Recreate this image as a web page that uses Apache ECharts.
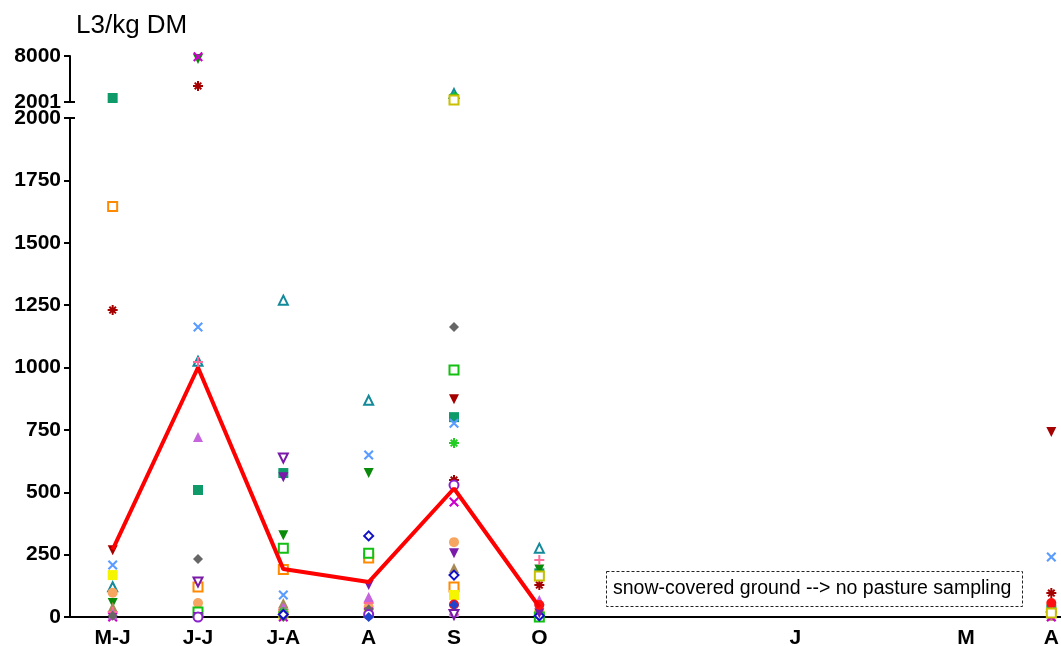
<!DOCTYPE html>
<html>
<head>
<meta charset="utf-8">
<script src="https://cdn.jsdelivr.net/npm/echarts@6/dist/echarts.min.js"></script>
<style>
  html, body { margin: 0; padding: 0; background: #fff; }
  #chart { width: 1061px; height: 646px; }
</style>
</head>
<body>
<div id="chart"></div>
<script>
// month labels on the x axis (blank = no sampling)
const tickLabels = ['M-J', 'J-J', 'J-A', 'A', 'S', 'O', '', '', 'J', '', 'M', 'A']
const lowerTicks = [0, 250, 500, 750, 1000, 1250, 1500, 1750, 2000]
const upperTicks = [2001, 8000]

// mean L3/kg DM per sampling period
const meanValues = [270, 1000, 192, 140, 515, 40]

// single pastures, values per period: [M-J, J-J, J-A, A, S, O, -, -, J, -, M, A]
const tealSquare = [2520, 509, 577, null, 801, 175, null, null, null, null, null, 30]
const orangeOpenSquare = [1645, 120, 190, 236, 120, null, null, null, null, null, null, null]
const darkRedAsterisk = [1230, 4100, 16, null, 549, 128, null, null, null, null, null, 96]
const darkRedDownTri = [268, null, 10, null, 873, 30, null, null, null, null, null, 741]
const blueCross = [208, 1162, 88, 649, 777, null, null, null, null, null, null, 240]
const yellowSquare = [168, 8, 10, 16, 88, 10, null, null, null, null, null, 16]
const tealOpenTri = [121, 1025, 1270, 869, 3100, 276, null, null, null, null, null, 40]
const sandCircle = [97, 56, 30, 40, 300, 20, null, null, null, null, null, null]
const greenDownTri = [56, 7600, 328, 577, 2400, 190, null, null, null, null, null, null]
const tanTri = [40, 10, 56, 30, 196, 10, null, null, null, null, null, 5]
const magentaCross = [0, 7900, 0, 20, 461, 0, null, null, null, null, null, 0]
const pinkPlus = [20, 1022, 30, 56, 10, 228, null, null, null, null, null, 20]
const orchidTri = [10, 721, 40, 80, 20, 68, null, null, null, null, null, null]
const greyDiamond = [5, 232, 0, 30, 1162, 0, null, null, null, null, null, null]
const purpleOpenDownTri = [null, 140, 637, null, 10, null, null, null, null, null, null, null]
const greenOpenSquare = [null, 20, 276, 256, 990, 0, null, null, null, null, null, null]
const greenAsterisk = [null, null, 20, null, 697, 10, null, null, null, null, null, null]
const limeAsterisk = [null, null, null, null, 2700, null, null, null, null, null, null, null]
const blueOpenDiamond = [null, null, 10, 325, 168, 5, null, null, null, null, null, null]
const purpleDownTri = [null, 0, 560, 128, 256, 15, null, null, null, null, null, null]
const purpleOpenCircle = [null, 0, null, 10, 529, null, null, null, null, null, null, null]
const redCircle = [null, null, null, null, 50, 48, null, null, null, null, null, 56]
const oliveOpenSquare = [null, null, null, null, 2250, 164, null, null, null, null, null, 16]
const blueDiamond = [null, null, null, 0, 48, null, null, null, null, null, null, null]

const asterisk = 'path://M4,0h2v10h-2z M0,4h10v2h-10z M1,2.4L2.4,1L9,7.6L7.6,9Z M7.6,1L9,2.4L2.4,9L1,7.6Z'
const cross = 'path://M0,1.5L1.5,0L10,8.5L8.5,10Z M8.5,0L10,1.5L1.5,10L0,8.5Z'
const plus = 'path://M4,0h2v10h-2z M0,4h10v2h-10z'

const pastures = [
  { data: tealSquare, symbol: 'rect', color: '#0f9a6a' },
  { data: orangeOpenSquare, symbol: 'emptyRect', color: '#ff8a00' },
  { data: darkRedAsterisk, symbol: asterisk, color: '#a50000' },
  { data: darkRedDownTri, symbol: 'triangle', rotate: 180, color: '#a50000' },
  { data: blueCross, symbol: cross, color: '#5a9cff' },
  { data: yellowSquare, symbol: 'rect', color: '#f5f500' },
  { data: tealOpenTri, symbol: 'emptyTriangle', color: '#128a9a' },
  { data: sandCircle, symbol: 'circle', color: '#f6a660' },
  { data: greenDownTri, symbol: 'triangle', rotate: 180, color: '#0a8a0a' },
  { data: tanTri, symbol: 'triangle', color: '#a88a55' },
  { data: magentaCross, symbol: cross, color: '#cc00cc' },
  { data: pinkPlus, symbol: plus, color: '#ff6c9c' },
  { data: orchidTri, symbol: 'triangle', color: '#c564dc' },
  { data: greyDiamond, symbol: 'diamond', color: '#666666' },
  { data: purpleOpenDownTri, symbol: 'emptyTriangle', rotate: 180, color: '#7a1aa8' },
  { data: greenOpenSquare, symbol: 'emptyRect', color: '#12c012' },
  { data: greenAsterisk, symbol: asterisk, color: '#22cc22' },
  { data: limeAsterisk, symbol: asterisk, color: '#11bb33' },
  { data: blueOpenDiamond, symbol: 'emptyDiamond', color: '#1010c8' },
  { data: purpleDownTri, symbol: 'triangle', rotate: 180, color: '#7a1aa8' },
  { data: purpleOpenCircle, symbol: 'emptyCircle', color: '#8a22cc' },
  { data: redCircle, symbol: 'circle', color: '#ff1010' },
  { data: oliveOpenSquare, symbol: 'emptyRect', color: '#c8c000' },
  { data: blueDiamond, symbol: 'diamond', color: '#2244cc' }
]

const font = "'Liberation Sans', Arial, sans-serif"
const chart = echarts.init(document.getElementById('chart'))

const xAxisBase = {
  type: 'category',
  data: tickLabels.map((_, i) => String(i)),
  boundaryGap: true
}

// split every pasture over the two y segments
const scatterSeries = []
pastures.forEach((p) => {
  const lower = []
  const upper = []
  p.data.forEach((v, i) => {
    if (v === null) return
    if (v > 2000) upper.push([i, v])
    else lower.push([i, v])
  })
  const isEmpty = p.symbol.indexOf('empty') === 0
  const base = {
    type: 'scatter',
    symbol: p.symbol,
    symbolRotate: p.rotate || 0,
    symbolSize: isEmpty ? 9 : 10,
    itemStyle: { color: p.color, borderColor: p.color, borderWidth: isEmpty ? 2.2 : 0, opacity: 1 },
    silent: true,
    z: 2
  }
  scatterSeries.push(Object.assign({}, base, { xAxisIndex: 0, yAxisIndex: 0, data: lower }))
  scatterSeries.push(Object.assign({}, base, { xAxisIndex: 1, yAxisIndex: 1, data: upper }))
})

const yLabel = {
  margin: 9,
  formatter: (v) => String(v),
  fontFamily: font,
  fontSize: 21,
  fontWeight: 'bold',
  color: '#000'
}

const option = {
  animation: false,
  backgroundColor: '#fff',
  title: {
    text: 'L3/kg DM',
    left: 71,
    top: 8,
    textStyle: { fontFamily: font, fontSize: 26, fontWeight: 'normal', color: '#000' }
  },
  grid: [
    { left: 70, top: 118, width: 1024, height: 499, outerBoundsMode: 'none' },
    { left: 70, top: 56, width: 1024, height: 46, outerBoundsMode: 'none' }
  ],
  xAxis: [
    Object.assign({}, xAxisBase, {
      gridIndex: 0,
      axisLine: { lineStyle: { color: '#000', width: 2 } },
      axisTick: {
        alignWithLabel: true,
        length: 6,
        interval: (i) => tickLabels[i] !== '',
        lineStyle: { color: '#000', width: 2 }
      },
      axisLabel: {
        interval: 0,
        margin: 11,
        formatter: (v) => tickLabels[+v],
        fontFamily: font,
        fontSize: 21,
        fontWeight: 'bold',
        color: '#000'
      }
    }),
    Object.assign({}, xAxisBase, { gridIndex: 1, show: false })
  ],
  yAxis: [
    {
      type: 'value',
      gridIndex: 0,
      min: 0,
      max: 2000,
      interval: 250,
      splitLine: { show: false },
      axisLine: { show: true, lineStyle: { color: '#000', width: 2 } },
      axisTick: { show: true, length: 6, lineStyle: { color: '#000', width: 2 } },
      axisLabel: Object.assign({ customValues: lowerTicks }, yLabel)
    },
    {
      type: 'value',
      gridIndex: 1,
      min: 2001,
      max: 8000,
      splitLine: { show: false },
      axisLine: { show: true, lineStyle: { color: '#000', width: 2 } },
      axisTick: { show: true, length: 6, customValues: upperTicks, lineStyle: { color: '#000', width: 2 } },
      axisLabel: Object.assign({ customValues: upperTicks }, yLabel)
    }
  ],
  series: scatterSeries.concat([
    {
      type: 'line',
      xAxisIndex: 0,
      yAxisIndex: 0,
      data: meanValues,
      symbol: 'none',
      lineStyle: { color: '#ff0000', width: 4 },
      silent: true,
      z: 3
    }
  ]),
  graphic: [
    // axis break marks
    { type: 'line', shape: { x1: 64, y1: 102, x2: 75, y2: 102 }, style: { stroke: '#000', lineWidth: 2 } },
    { type: 'line', shape: { x1: 64, y1: 118, x2: 75, y2: 118 }, style: { stroke: '#000', lineWidth: 2 } },
    {
      type: 'rect',
      shape: { x: 606.5, y: 571.5, width: 416, height: 35 },
      style: { fill: '#fff', stroke: '#222', lineWidth: 1, lineDash: [3, 2] }
    },
    {
      type: 'text',
      x: 613,
      y: 589,
      style: {
        text: 'snow-covered ground --> no pasture sampling',
        font: "19.5px 'Liberation Sans', Arial, sans-serif",
        fill: '#000',
        verticalAlign: 'middle'
      }
    }
  ]
}

chart.setOption(option)
</script>
</body>
</html>
